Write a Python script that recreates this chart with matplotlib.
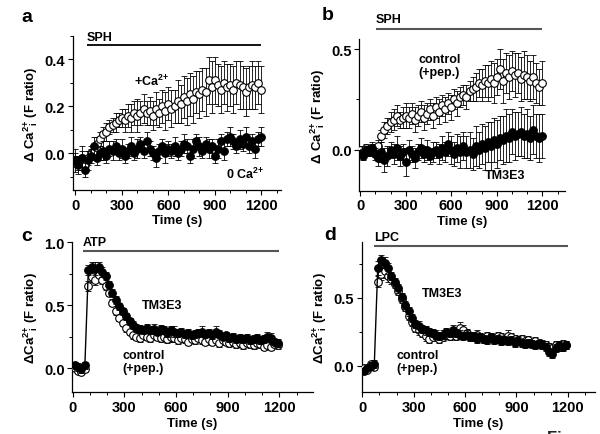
import matplotlib
matplotlib.use('Agg')
import matplotlib.pyplot as plt
from matplotlib.ticker import MultipleLocator

plt.rcParams['font.family'] = ['Liberation Sans', 'DejaVu Sans']
plt.rcParams['font.weight'] = 'bold'
plt.rcParams['mathtext.fontset'] = 'custom'
plt.rcParams['mathtext.bf'] = 'Liberation Sans:bold'
plt.rcParams['mathtext.rm'] = 'Liberation Sans:bold'
plt.rcParams['mathtext.default'] = 'bf'

#%% data

# panels a, b: one point every 20 s from 0 to 1200 s
t_ab = list(range(0, 1201, 20))

a_ca = [-0.03, -0.04, -0.02, -0.05, -0.02, 0.00, 0.01, 0.04, 0.06, 0.08, 0.09,
        0.11, 0.12, 0.13, 0.14, 0.15, 0.14, 0.16, 0.15, 0.17, 0.16, 0.17, 0.19,
        0.17, 0.18, 0.16, 0.19, 0.17, 0.20, 0.18, 0.21, 0.19, 0.20, 0.22, 0.21,
        0.24, 0.22, 0.25, 0.23, 0.26, 0.25, 0.27, 0.26, 0.31, 0.28, 0.31, 0.29,
        0.27, 0.30, 0.28, 0.29, 0.27, 0.30, 0.29, 0.28, 0.26, 0.28, 0.29, 0.28,
        0.30, 0.27]
a_ca_err = [0.03, 0.03, 0.03, 0.03, 0.03, 0.03, 0.03, 0.03, 0.03, 0.03, 0.04,
            0.03, 0.03, 0.04, 0.03, 0.04, 0.05, 0.05, 0.06, 0.05, 0.07, 0.05, 0.06,
            0.05, 0.06, 0.06, 0.07, 0.06, 0.07, 0.08, 0.07, 0.08, 0.07, 0.09, 0.08,
            0.09, 0.10, 0.09, 0.10, 0.09, 0.10, 0.09, 0.10, 0.10, 0.11, 0.10, 0.09,
            0.10, 0.09, 0.10, 0.09, 0.10, 0.09, 0.10, 0.09, 0.10, 0.09, 0.10, 0.09,
            0.09, 0.10]
a_0ca = [-0.03, -0.05, -0.02, -0.07, -0.03, -0.01, 0.03, -0.02, 0.00, 0.01, -0.01,
         0.02, 0.01, 0.03, 0.00, 0.02, -0.01, 0.01, 0.03, 0.00, 0.02, 0.04, 0.01,
         0.05, 0.02, 0.00, -0.02, 0.01, 0.03, 0.00, 0.02, 0.01, 0.03, 0.00, 0.02,
         0.04, 0.03, -0.01, 0.02, 0.05, 0.03, 0.01, 0.04, 0.02, 0.03, -0.01, 0.02,
         0.05, 0.01, 0.06, 0.07, 0.05, 0.03, 0.06, 0.04, 0.07, 0.03, 0.05, 0.02,
         0.06, 0.07]
a_0ca_err = [0.05, 0.04, 0.05, 0.03, 0.04, 0.03, 0.04, 0.03, 0.03, 0.04, 0.03,
             0.03, 0.04, 0.03, 0.03, 0.04, 0.03, 0.03, 0.04, 0.03, 0.04, 0.03, 0.03,
             0.04, 0.03, 0.03, 0.04, 0.03, 0.03, 0.04, 0.03, 0.03, 0.04, 0.03, 0.03,
             0.04, 0.03, 0.03, 0.04, 0.03, 0.04, 0.03, 0.03, 0.04, 0.03, 0.03, 0.04,
             0.03, 0.04, 0.03, 0.04, 0.03, 0.03, 0.04, 0.03, 0.04, 0.03, 0.03, 0.04,
             0.03, 0.04]

b_ctrl = [0.00, -0.01, 0.01, 0.00, 0.01, 0.00, 0.02, 0.07, 0.10, 0.12, 0.14,
          0.15, 0.17, 0.15, 0.16, 0.17, 0.16, 0.18, 0.15, 0.17, 0.19, 0.16, 0.18,
          0.20, 0.17, 0.21, 0.19, 0.22, 0.20, 0.23, 0.21, 0.25, 0.23, 0.26, 0.27,
          0.26, 0.29, 0.30, 0.31, 0.33, 0.32, 0.34, 0.33, 0.35, 0.33, 0.36, 0.40,
          0.34, 0.38, 0.36, 0.39, 0.37, 0.38, 0.35, 0.37, 0.36, 0.34, 0.36, 0.33,
          0.31, 0.33]
b_ctrl_err = [0.02, 0.02, 0.02, 0.02, 0.02, 0.02, 0.03, 0.03, 0.04, 0.04, 0.05,
              0.05, 0.05, 0.04, 0.05, 0.06, 0.05, 0.05, 0.06, 0.05, 0.05, 0.06, 0.05,
              0.05, 0.06, 0.05, 0.06, 0.05, 0.06, 0.05, 0.06, 0.05, 0.06, 0.05, 0.05,
              0.06, 0.05, 0.06, 0.07, 0.07, 0.08, 0.08, 0.09, 0.09, 0.10, 0.09, 0.10,
              0.11, 0.10, 0.11, 0.10, 0.11, 0.10, 0.11, 0.12, 0.11, 0.10, 0.11, 0.10,
              0.09, 0.11]
b_tm = [-0.02, -0.03, 0.00, -0.01, 0.01, -0.02, -0.04, -0.01, -0.05, -0.03, 0.00,
        -0.02, 0.01, -0.03, -0.01, -0.06, 0.00, -0.02, -0.04, -0.01, 0.01, -0.02, 0.00,
        -0.03, -0.01, 0.00, -0.02, 0.01, -0.01, 0.03, 0.00, -0.02, 0.01, -0.01, 0.02,
        -0.01, 0.00, -0.02, 0.02, 0.00, 0.03, 0.01, 0.04, 0.02, 0.05, 0.03, 0.06,
        0.05, 0.07, 0.06, 0.09, 0.07, 0.08, 0.09, 0.07, 0.08, 0.06, 0.10, 0.07,
        0.06, 0.07]
b_tm_err = [0.02, 0.02, 0.02, 0.02, 0.03, 0.03, 0.04, 0.05, 0.06, 0.05, 0.04,
            0.05, 0.06, 0.05, 0.04, 0.07, 0.05, 0.04, 0.05, 0.04, 0.05, 0.04, 0.05,
            0.04, 0.05, 0.04, 0.05, 0.06, 0.05, 0.06, 0.07, 0.06, 0.07, 0.08, 0.07,
            0.08, 0.09, 0.08, 0.10, 0.09, 0.10, 0.11, 0.10, 0.12, 0.11, 0.12, 0.11,
            0.12, 0.13, 0.12, 0.11, 0.12, 0.11, 0.12, 0.11, 0.12, 0.11, 0.12, 0.11,
            0.12, 0.11]

# panels c, d: one point every 20 s from 10 to 1190 s
t_cd = list(range(10, 1191, 20))

c_tm = [0.02, 0.01, -0.01, 0.02, 0.78, 0.80, 0.79, 0.80, 0.76, 0.73, 0.66,
        0.60, 0.54, 0.49, 0.45, 0.41, 0.37, 0.34, 0.32, 0.31, 0.30, 0.32, 0.30,
        0.31, 0.29, 0.31, 0.30, 0.28, 0.30, 0.29, 0.28, 0.29, 0.27, 0.28, 0.26,
        0.27, 0.28, 0.29, 0.27, 0.28, 0.26, 0.29, 0.27, 0.25, 0.26, 0.24, 0.25,
        0.23, 0.24, 0.23, 0.24, 0.22, 0.23, 0.24, 0.22, 0.23, 0.25, 0.24, 0.21,
        0.20]
c_tm_err = [0.03, 0.03, 0.03, 0.03, 0.04, 0.04, 0.05, 0.04, 0.04, 0.03, 0.03,
            0.03, 0.03, 0.03, 0.03, 0.03, 0.03, 0.03, 0.03, 0.03, 0.03, 0.03, 0.03,
            0.04, 0.03, 0.03, 0.03, 0.03, 0.03, 0.04, 0.03, 0.03, 0.03, 0.03, 0.03,
            0.03, 0.03, 0.04, 0.03, 0.03, 0.03, 0.04, 0.03, 0.03, 0.03, 0.03, 0.03,
            0.03, 0.03, 0.03, 0.03, 0.03, 0.03, 0.03, 0.03, 0.03, 0.04, 0.04, 0.03,
            0.03]
c_ctrl = [0.00, -0.02, -0.03, -0.01, 0.65, 0.72, 0.70, 0.74, 0.70, 0.65, 0.60,
          0.52, 0.45, 0.40, 0.36, 0.32, 0.29, 0.26, 0.25, 0.24, 0.26, 0.25, 0.24,
          0.26, 0.25, 0.24, 0.25, 0.23, 0.25, 0.24, 0.22, 0.24, 0.23, 0.21, 0.23,
          0.22, 0.24, 0.22, 0.21, 0.23, 0.21, 0.22, 0.20, 0.22, 0.21, 0.20, 0.21,
          0.19, 0.20, 0.18, 0.20, 0.19, 0.18, 0.20, 0.19, 0.17, 0.18, 0.17, 0.19,
          0.18]
c_ctrl_err = [0.02, 0.02, 0.02, 0.02, 0.04, 0.04, 0.04, 0.04, 0.03, 0.03, 0.03,
              0.03, 0.03, 0.03, 0.03, 0.03, 0.03, 0.03, 0.03, 0.03, 0.03, 0.03, 0.03,
              0.03, 0.03, 0.03, 0.03, 0.03, 0.04, 0.03, 0.03, 0.03, 0.03, 0.03, 0.03,
              0.03, 0.03, 0.03, 0.03, 0.03, 0.03, 0.03, 0.03, 0.03, 0.03, 0.03, 0.03,
              0.03, 0.03, 0.03, 0.03, 0.03, 0.03, 0.03, 0.03, 0.03, 0.03, 0.03, 0.03,
              0.03]

d_tm = [-0.04, -0.02, 0.00, 0.01, 0.72, 0.78, 0.76, 0.72, 0.66, 0.62, 0.57,
        0.51, 0.45, 0.40, 0.35, 0.31, 0.29, 0.27, 0.26, 0.25, 0.24, 0.23, 0.22,
        0.23, 0.25, 0.24, 0.26, 0.24, 0.23, 0.22, 0.23, 0.21, 0.22, 0.20, 0.21,
        0.20, 0.19, 0.21, 0.19, 0.20, 0.18, 0.19, 0.18, 0.19, 0.17, 0.18, 0.17,
        0.16, 0.17, 0.16, 0.15, 0.16, 0.15, 0.14, 0.10, 0.09, 0.13, 0.15, 0.14,
        0.15]
d_tm_err = [0.02, 0.02, 0.03, 0.03, 0.05, 0.04, 0.04, 0.04, 0.03, 0.03, 0.03,
            0.03, 0.03, 0.03, 0.03, 0.03, 0.04, 0.03, 0.03, 0.03, 0.03, 0.03, 0.03,
            0.03, 0.03, 0.03, 0.04, 0.03, 0.03, 0.03, 0.03, 0.03, 0.03, 0.03, 0.03,
            0.03, 0.03, 0.03, 0.03, 0.03, 0.03, 0.03, 0.03, 0.03, 0.03, 0.03, 0.03,
            0.03, 0.03, 0.03, 0.03, 0.03, 0.03, 0.03, 0.03, 0.03, 0.03, 0.03, 0.03,
            0.03]
d_ctrl = [-0.02, -0.03, 0.01, -0.01, 0.62, 0.68, 0.70, 0.66, 0.64, 0.60, 0.55,
          0.49, 0.43, 0.37, 0.32, 0.28, 0.26, 0.24, 0.22, 0.20, 0.21, 0.22, 0.20,
          0.21, 0.23, 0.22, 0.24, 0.22, 0.28, 0.26, 0.24, 0.22, 0.21, 0.23, 0.21,
          0.20, 0.22, 0.21, 0.20, 0.22, 0.21, 0.20, 0.22, 0.21, 0.20, 0.19, 0.20,
          0.18, 0.19, 0.17, 0.18, 0.17, 0.16, 0.15, 0.14, 0.13, 0.15, 0.14, 0.16,
          0.15]
d_ctrl_err = [0.02, 0.02, 0.02, 0.02, 0.04, 0.05, 0.05, 0.04, 0.04, 0.03, 0.03,
              0.03, 0.03, 0.03, 0.03, 0.03, 0.03, 0.03, 0.04, 0.03, 0.03, 0.03, 0.03,
              0.03, 0.03, 0.03, 0.04, 0.03, 0.04, 0.04, 0.03, 0.03, 0.03, 0.03, 0.03,
              0.03, 0.03, 0.03, 0.03, 0.03, 0.03, 0.03, 0.04, 0.03, 0.03, 0.03, 0.03,
              0.03, 0.03, 0.03, 0.03, 0.03, 0.03, 0.03, 0.03, 0.03, 0.03, 0.03, 0.03,
              0.03]

#%% helpers

def style_axis(ax, xlim, ylim, ymajor, yminor, ylabel):
    ax.set_xlim(*xlim)
    ax.set_ylim(*ylim)
    for s in ['top', 'right']:
        ax.spines[s].set_visible(False)
    for s in ['left', 'bottom']:
        ax.spines[s].set_linewidth(0.9)
    ax.xaxis.set_major_locator(MultipleLocator(300))
    ax.xaxis.set_minor_locator(MultipleLocator(100))
    ax.yaxis.set_major_locator(MultipleLocator(ymajor))
    ax.yaxis.set_minor_locator(MultipleLocator(yminor))
    ax.yaxis.set_major_formatter(plt.FormatStrFormatter('%.1f'))
    ax.tick_params(which='major', direction='out', length=3.5, width=0.8,
                   labelsize=10.5, pad=2)
    ax.tick_params(which='minor', direction='out', length=2, width=0.7)
    ax.set_xlabel('Time (s)', fontsize=9.5, fontweight='bold', labelpad=2)
    ax.set_ylabel(ylabel, fontsize=9.5, fontweight='bold', labelpad=3)


def draw_series(ax, t, y, err, filled, line=False):
    fc = 'black' if filled else 'white'
    ax.errorbar(t, y, yerr=err, fmt='-' if line else 'none', color='black',
                lw=1.0 if line else 0, ecolor='black', elinewidth=0.6,
                capsize=2, capthick=0.6, zorder=3 if filled else 2)
    ax.plot(t, y, 'o', ms=5.5, mfc=fc, mec='black', mew=0.8,
            zorder=4 if filled else 3)


def bar(ax, x0, x1, y, color, lw):
    ax.plot([x0, x1], [y, y], color=color, lw=lw, clip_on=False,
            solid_capstyle='butt')

#%% figure

fig = plt.figure(figsize=(6.0, 4.35), dpi=100)

ax_a = fig.add_axes([0.121, 0.561, 0.348, 0.355])
ax_b = fig.add_axes([0.599, 0.559, 0.343, 0.349])
ax_c = fig.add_axes([0.1205, 0.0959, 0.401, 0.345])
ax_d = fig.add_axes([0.603, 0.0959, 0.389, 0.345])

lab_sp = r'$\Delta$ Ca$^{\text{2+}}_{\ \ i}$ (F ratio)'
lab_ns = r'$\Delta$Ca$^{\text{2+}}_{\ \ i}$ (F ratio)'
ca_sup = r'Ca$^{\text{2+}}$'

# a
style_axis(ax_a, (-18, 1330), (-0.156, 0.5), 0.2, 0.1, lab_sp)
draw_series(ax_a, t_ab, a_ca, a_ca_err, False)
draw_series(ax_a, t_ab, a_0ca, a_0ca_err, True)
bar(ax_a, 75, 1200, 0.46, 'black', 1.3)
ax_a.text(75, 0.47, 'SPH', fontsize=9, fontweight='bold', va='bottom')
ax_a.text(380, 0.31, '+' + ca_sup, fontsize=9, fontweight='bold', va='center')
ax_a.text(975, -0.085, '0 ' + ca_sup, fontsize=9, fontweight='bold', va='center')

# b
style_axis(ax_b, (-5, 1350), (-0.204, 0.55), 0.5, 0.25, lab_sp)
draw_series(ax_b, t_ab, b_ctrl, b_ctrl_err, False)
draw_series(ax_b, t_ab, b_tm, b_tm_err, True)
bar(ax_b, 105, 1200, 0.6, '#555555', 1.5)
ax_b.text(100, 0.62, 'SPH', fontsize=9, fontweight='bold', va='bottom')
ax_b.text(385, 0.45, 'control', fontsize=9, fontweight='bold', va='center')
ax_b.text(385, 0.385, '(+pep.)', fontsize=9, fontweight='bold', va='center')
ax_b.text(820, -0.125, 'TM3E3', fontsize=9, fontweight='bold', va='center')

# c
style_axis(ax_c, (-3, 1395), (-0.193, 1.0), 0.5, 0.25, lab_ns)
draw_series(ax_c, t_cd, c_ctrl, c_ctrl_err, False)
draw_series(ax_c, t_cd, c_tm, c_tm_err, True, line=True)
bar(ax_c, 58, 1200, 0.93, '#555555', 1.5)
ax_c.text(60, 0.955, 'ATP', fontsize=9, fontweight='bold', va='bottom')
ax_c.text(400, 0.5, 'TM3E3', fontsize=9, fontweight='bold', va='center')
ax_c.text(290, 0.1, 'control', fontsize=9, fontweight='bold', va='center')
ax_c.text(290, 0.0, '(+pep.)', fontsize=9, fontweight='bold', va='center')

# d
style_axis(ax_d, (-3, 1360), (-0.196, 0.911), 0.5, 0.25, lab_ns)
draw_series(ax_d, t_cd, d_ctrl, d_ctrl_err, False)
draw_series(ax_d, t_cd, d_tm, d_tm_err, True, line=True)
bar(ax_d, 68, 1200, 0.88, '#555555', 1.5)
ax_d.text(68, 0.905, 'LPC', fontsize=9, fontweight='bold', va='bottom')
ax_d.text(345, 0.54, 'TM3E3', fontsize=9, fontweight='bold', va='center')
ax_d.text(200, 0.08, 'control', fontsize=9, fontweight='bold', va='center')
ax_d.text(200, -0.02, '(+pep.)', fontsize=9, fontweight='bold', va='center')

# panel letters
for letter, px, py in [('a', 27, 18), ('b', 328, 16), ('c', 27, 237), ('d', 330, 236)]:
    fig.text(px / 600, 1 - py / 435, letter, fontsize=14, fontweight='bold',
             ha='center', va='center')

# cut-off caption at the bottom edge, as in the source page
fig.text(0.912, 0.010, 'Figure 1', fontsize=12, fontweight='bold', va='top',
         color='#222222')

fig.savefig('out.png', dpi=100)
